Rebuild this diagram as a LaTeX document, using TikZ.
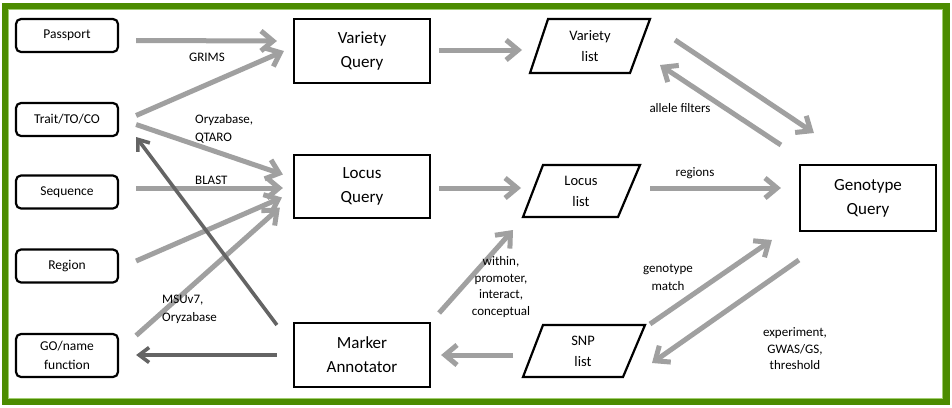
\documentclass[tikz,border=0pt]{standalone}
\usepackage{fontspec}
\setmainfont{Carlito}
\usetikzlibrary{arrows.meta,calc}
\definecolor{framegreen}{RGB}{76,140,0}
\definecolor{lightgreen}{RGB}{160,205,110}
\definecolor{arrowgray}{RGB}{160,160,160}
\definecolor{darkgray}{RGB}{100,100,100}
\tikzset{
  srcbox/.style={draw=black, line width=2.2pt, rounded corners=5pt, minimum width=102pt, minimum height=33pt, inner sep=1pt, font=\fontsize{13.5}{16}\selectfont, align=center},
  qbox/.style={draw=black, line width=2.2pt, minimum width=136pt, minimum height=64pt, inner sep=1pt, font=\fontsize{17}{24}\selectfont, align=center},
  listnode/.style={minimum width=80pt, minimum height=53pt, inner sep=1pt, font=\fontsize{14.5}{21}\selectfont, align=center},
  plgram/.style={draw=black, line width=2.2pt},
  garrow/.style={draw=arrowgray, line width=5pt, -{Straight Barb[length=12pt,width=20pt]}},
  darrow/.style={draw=darkgray, line width=3.6pt, -{Straight Barb[length=10pt,width=15pt]}},
  lbl/.style={font=\fontsize{13}{18}\selectfont, inner sep=0pt},
}
\begin{document}
\begin{tikzpicture}[x=1pt,y=-1pt]
\useasboundingbox (0,0) rectangle (952,407);
\fill[white] (0,0) rectangle (952,407);
\draw[framegreen, line width=6.5pt] (5,6) rectangle (946.5,402);
\draw[lightgreen, line width=1pt] (8.8,9.8) rectangle (942.7,398.2);

% source boxes
\node[srcbox] (passport) at (67,35.5) {Passport};
\node[srcbox] (trait) at (67,119.5) {Trait/TO/CO};
\node[srcbox] (sequence) at (67,192) {Sequence};
\node[srcbox] (region) at (67,266) {Region};
\node[srcbox, minimum height=43pt, font=\fontsize{13.5}{19}\selectfont] (goname) at (67,355.5) {GO/name\\function};

% query boxes
\node[qbox] (vq) at (362,51) {Variety\\Query};
\node[qbox, minimum height=63pt] (lq) at (362,186.5) {Locus\\Query};
\node[qbox] (ma) at (362,355) {Marker\\Annotator};
\node[qbox, minimum height=66pt] (gq) at (868,198) {Genotype\\Query};

% lists
\node[listnode] (vl) at (590,46) {Variety\\list};
\node[listnode] (ll) at (581,191) {Locus\\list};
\node[listnode] (snp) at (583,351) {SNP\\list};
\draw[plgram] ($(vl)+(-42,-27)$) -- ($(vl)+(60,-27)$) -- ($(vl)+(40,27)$) -- ($(vl)+(-60,27)$) -- cycle;
\draw[plgram] ($(ll)+(-38,-26)$) -- ($(ll)+(59,-26)$) -- ($(ll)+(37,26)$) -- ($(ll)+(-58,26)$) -- cycle;
\draw[plgram] ($(snp)+(-40,-26)$) -- ($(snp)+(62,-26)$) -- ($(snp)+(40,26)$) -- ($(snp)+(-60,26)$) -- cycle;

% arrows into queries
\draw[garrow] ($(passport.east)+(17,5)$) -- ($(vq.west)+(-16,-10)$);
\draw[garrow] ($(trait.east)+(17,-4)$) -- ($(vq.west)+(-9,0)$);
\draw[garrow] ($(trait.east)+(17,5)$) -- ($(lq.west)+(-10,-12)$);
\draw[garrow] ($(sequence.east)+(17,-4)$) -- ($(lq.west)+(-10,1.5)$);
\draw[garrow] ($(region.east)+(17,-5)$) -- ($(lq.west)+(-11,11)$);
\draw[garrow] ($(goname.east)+(17,-20)$) -- ($(lq.west)+(-13,21)$);

% marker annotator outputs (dark)
\draw[darrow] ($(ma.west)+(-16,-30)$) -- ($(trait.east)+(17,17.5)$);
\draw[darrow] ($(ma.west)+(-16,0)$) -- ($(goname.east)+(17,-0.5)$);

% query to lists
\draw[garrow] ($(vq.east)+(8,-1)$) -- ($(vl)+(-68,4)$);
\draw[garrow] ($(lq.east)+(8,1.5)$) -- ($(ll)+(-60,-3)$);
\draw[garrow] ($(ll)+(69,-3)$) -- ($(gq.west)+(-18,-10)$);
\draw[garrow] ($(vl)+(85,-6)$) -- ($(gq.west)+(15,-65)$);
\draw[garrow] ($(gq.west)+(-18,-53)$) -- ($(vl)+(70,19)$);
\draw[garrow] ($(snp)+(67,-27)$) -- ($(gq.west)+(-27,42)$);
\draw[garrow] ($(gq.west)+(0,62)$) -- ($(snp)+(69,12)$);
\draw[garrow] ($(snp)+(-70,4)$) -- ($(ma.east)+(10,0)$);
\draw[garrow] ($(ma.east)+(8,-42)$) -- ($(ll)+(-68,39)$);

% labels
\node[lbl] (lgrims) at (207,57) {GRIMS};
\node[lbl, anchor=west, align=left] (loryza) at (195,129) {Oryzabase,\\QTARO};
\node[lbl, anchor=west] (lblast) at (195,180) {BLAST};
\node[lbl, anchor=west, align=left] (lmsu) at (162,309) {MSUv7,\\Oryzabase};
\node[lbl, align=center, font=\fontsize{13}{16.5}\selectfont] (lwithin) at (501,287) {within,\\promoter,\\interact,\\conceptual};
\node[lbl, align=center] (lgeno) at (668,277) {genotype\\match};
\node[lbl, align=center, font=\fontsize{13}{16.5}\selectfont] (lexp) at (795,349) {experiment,\\GWAS/GS,\\threshold};
\node[lbl] (lallele) at (680,108) {allele filters};
\node[lbl] (lregions) at (695,173) {regions};
\end{tikzpicture}
\end{document}
